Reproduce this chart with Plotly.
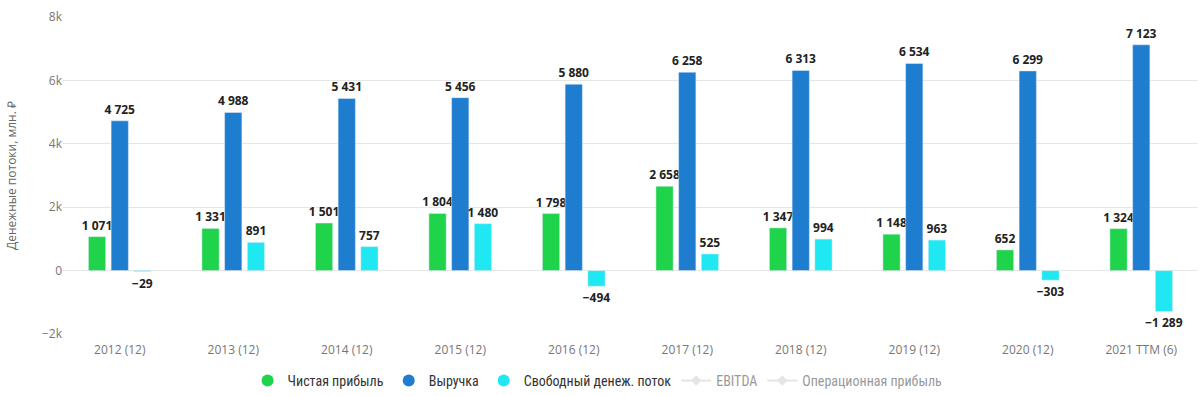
import plotly.graph_objects as go

categories = ["2012 (12)", "2013 (12)", "2014 (12)", "2015 (12)", "2016 (12)",
              "2017 (12)", "2018 (12)", "2019 (12)", "2020 (12)", "2021 TTM (6)"]
net_profit = [1071, 1331, 1501, 1804, 1798, 2658, 1347, 1148, 652, 1324]
revenue = [4725, 4988, 5431, 5456, 5880, 6258, 6313, 6534, 6299, 7123]
fcf = [-29, 891, 757, 1480, -494, 525, 994, 963, -303, -1289]
tick_vals = [-2000, 0, 2000, 4000, 6000, 8000]
tick_text = ["−2k", "0", "2k", "4k", "6k", "8k"]

def fmt(v):
    s = f"{abs(v):,}".replace(",", " ")
    return ("−" if v < 0 else "") + s

fig = go.Figure()
series = [("Чистая прибыль", net_profit, "#1fd34b"),
          ("Выручка", revenue, "#1f7dcf"),
          ("Свободный денеж. поток", fcf, "#1fe8f2")]
for name, vals, color in series:
    fig.add_trace(go.Bar(
        x=categories, y=vals, name=name, marker_color=color, showlegend=False,
        text=[fmt(v) for v in vals], textposition="outside", constraintext="none",
        textfont=dict(family="Open Sans", size=12, color="#222222", weight="bold"),
        cliponaxis=False,
    ))
    fig.add_trace(go.Scatter(
        x=[categories[0]], y=[None], name=name, mode="markers",
        marker=dict(symbol="circle", size=12, color=color), showlegend=True,
    ))
for name in ["EBITDA", "Операционная прибыль"]:
    fig.add_trace(go.Scatter(
        x=categories, y=[None]*len(categories), name=name, mode="lines+markers",
        line=dict(color="#cccccc", width=2), marker=dict(symbol="diamond", size=8, color="#cccccc"),
        visible="legendonly",
    ))

fig.update_layout(
    width=1200, height=396,
    margin=dict(l=63, r=2, t=17, b=62, autoexpand=False),
    paper_bgcolor="white", plot_bgcolor="white",
    barmode="group", bargap=0.4, bargroupgap=0.24,
    font=dict(family="Open Sans", color="#333333"),
    legend=dict(orientation="h", x=0.498, xanchor="center", y=0.038, yref="container", yanchor="middle",
                xref="container",
                font=dict(family="Liberation Sans Narrow, Roboto Condensed, Open Sans", size=14, color="#333333"),
                itemclick=False, itemdoubleclick=False, itemwidth=30),
    xaxis=dict(range=[-0.5, len(categories) - 0.5], showgrid=False, showline=False, ticks="",
               automargin=False, ticklabelstandoff=7, tickfont=dict(size=12, color="#777777")),
    yaxis=dict(range=[-2000, 8000], tickvals=tick_vals, ticktext=tick_text, automargin=False,
               showgrid=True, gridcolor="#e6e6e6", zeroline=False,
               tickfont=dict(size=12, color="#777777"),
               title=dict(text="Денежные потоки, млн. ₽", font=dict(size=12, color="#666666"), standoff=22)),
)
fig.write_html("out.html", config={"displayModeBar": False},
               post_script="document.body.style.margin='0';")
